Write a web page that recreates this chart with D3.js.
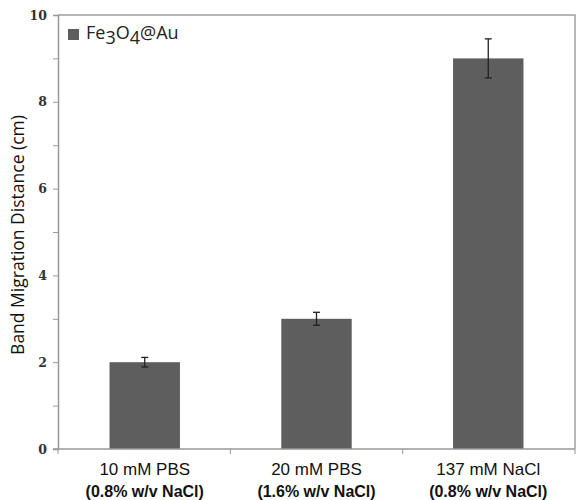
<!DOCTYPE html>
<html>
<head>
<meta charset="utf-8">
<script src="https://cdn.jsdelivr.net/npm/d3@7"></script>
<style>
  body { margin: 0; background: #fff; }
</style>
</head>
<body>
<div id="chart"></div>
<script>
// data
var categories = ["10 mM PBS", "20 mM PBS", "137 mM NaCl"];
var subLabels = ["(0.8% w/v NaCl)", "(1.6% w/v NaCl)", "(0.8% w/v NaCl)"];
var values = [2.0, 3.0, 9.0];
var errors = [0.11, 0.15, 0.45];
var majorTicks = [0, 2, 4, 6, 8, 10];
var minorTicks = [1, 3, 5, 7, 9];

var width = 576, height = 500;
// plot box edges
var plotLeft = 58, plotRight = 575, plotTop = 15, plotBottom = 449;

var svg = d3.select("#chart").append("svg")
    .attr("width", width)
    .attr("height", height);

var x = d3.scaleBand()
    .domain(categories)
    .range([plotLeft, plotRight])
    .paddingInner(0.59)
    .paddingOuter(0.3);

var y = d3.scaleLinear()
    .domain([0, 10])
    .range([plotBottom, plotTop]);

// frame (top and right)
svg.append("path")
    .attr("d", `M${plotLeft},${plotTop}H${plotRight}V${plotBottom}`)
    .attr("fill", "none")
    .attr("stroke", "#a0a0a0")
    .attr("stroke-width", 1.5);

// bars
svg.selectAll("rect.bar").data(values).enter()
    .append("rect")
    .attr("class", "bar")
    .attr("x", (d, i) => x(categories[i]))
    .attr("y", d => y(d))
    .attr("width", x.bandwidth())
    .attr("height", d => y(0) - y(d))
    .attr("fill", "#5e5e5e");

// error bars
var eb = svg.selectAll("g.err").data(values).enter()
    .append("g")
    .attr("class", "err")
    .attr("stroke", "#222")
    .attr("stroke-width", 1.3);
eb.append("line")
    .attr("x1", (d, i) => x(categories[i]) + x.bandwidth() / 2)
    .attr("x2", (d, i) => x(categories[i]) + x.bandwidth() / 2)
    .attr("y1", (d, i) => y(d + errors[i]))
    .attr("y2", (d, i) => y(d - errors[i]));
[1, -1].forEach(function(s) {
  eb.append("line")
    .attr("x1", (d, i) => x(categories[i]) + x.bandwidth() / 2 - 3.5)
    .attr("x2", (d, i) => x(categories[i]) + x.bandwidth() / 2 + 3.5)
    .attr("y1", (d, i) => y(d + s * errors[i]))
    .attr("y2", (d, i) => y(d + s * errors[i]));
});

// y axis
var yAxis = svg.append("g")
    .attr("transform", `translate(${plotLeft},0)`)
    .call(d3.axisLeft(y).tickValues(majorTicks).tickSize(5).tickPadding(6));
svg.append("g")
    .attr("transform", `translate(${plotLeft},0)`)
    .call(d3.axisLeft(y).tickValues(minorTicks).tickSize(5).tickFormat(""))
    .select(".domain").remove();
svg.selectAll("g .tick line").attr("stroke", "#999");
yAxis.select(".domain").attr("stroke", "#999").attr("stroke-width", 1.5);
yAxis.selectAll("text")
    .attr("font-family", "'DejaVu Serif', serif")
    .attr("font-size", 12.5)
    .attr("font-weight", "bold")
    .attr("fill", "#333");

// x axis: line plus ticks at category boundaries
svg.append("line")
    .attr("x1", plotLeft - 5).attr("x2", plotRight)
    .attr("y1", plotBottom).attr("y2", plotBottom)
    .attr("stroke", "#999").attr("stroke-width", 1.5);
var bounds = d3.range(categories.length + 1)
    .map(i => plotLeft + i * (plotRight - plotLeft) / categories.length);
svg.selectAll("line.xtick").data(bounds).enter()
    .append("line")
    .attr("class", "xtick")
    .attr("x1", d => d).attr("x2", d => d)
    .attr("y1", plotBottom).attr("y2", plotBottom + 5)
    .attr("stroke", "#999");

// x labels (two lines)
var xl = svg.selectAll("g.xlab").data(categories).enter()
    .append("g")
    .attr("class", "xlab")
    .attr("transform", d => `translate(${x(d) + x.bandwidth() / 2},0)`)
    .attr("text-anchor", "middle")
    .attr("font-family", "'Liberation Sans', Arial, sans-serif")
    .attr("fill", "#111");
xl.append("text")
    .attr("y", 475)
    .attr("font-size", 17)
    .text(d => d);
xl.append("text")
    .attr("y", 497)
    .attr("font-size", 16)
    .attr("font-weight", "bold")
    .text((d, i) => subLabels[i]);

// y label
svg.append("text")
    .attr("transform", `translate(24,235) rotate(-90)`)
    .attr("text-anchor", "middle")
    .attr("font-family", "'Open Sans', sans-serif")
    .attr("font-size", 17.5)
    .attr("fill", "#111")
    .text("Band Migration Distance (cm)");

// legend
svg.append("rect")
    .attr("x", 68).attr("y", 29)
    .attr("width", 11).attr("height", 11)
    .attr("fill", "#5e5e5e");
var lg = svg.append("text")
    .attr("x", 86).attr("y", 39)
    .attr("font-family", "'Open Sans', sans-serif")
    .attr("font-size", 18)
    .attr("fill", "#222");
lg.append("tspan").text("Fe");
lg.append("tspan").attr("dy", 5).text("3");
lg.append("tspan").attr("dy", -5).text("O");
lg.append("tspan").attr("dy", 5).text("4");
lg.append("tspan").attr("dy", -5).text("@Au");
</script>
</body>
</html>
